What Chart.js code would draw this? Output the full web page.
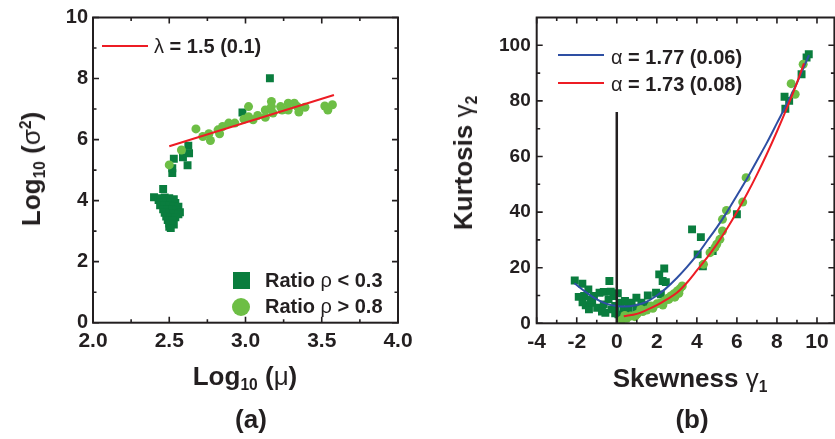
<!DOCTYPE html>
<html>
<head>
<meta charset="utf-8">
<script src="https://cdn.jsdelivr.net/npm/chart.js@4.4.1/dist/chart.umd.min.js"></script>
<style>
  html, body { margin:0; padding:0; background:#fff; overflow:hidden; width:835px; height:439px; }
  #wrap { position:relative; width:835px; height:439px; overflow:hidden; font-family:"Liberation Sans", Arial, sans-serif; color:#231f20; }
  canvas { position:absolute; top:0; }
  .t { position:absolute; font-weight:bold; white-space:nowrap; line-height:1; }
  .g { font-weight:normal; }
  .sub { font-size:60%; position:relative; top:0.35em; }
  .sup { font-size:60%; position:relative; top:-0.55em; }
  .sym { position:absolute; }
</style>
</head>
<body>
<div id="wrap">
  <canvas id="ca" width="420" height="439" style="left:0"></canvas>
  <canvas id="cb" width="420" height="439" style="left:420px"></canvas>

  <!-- panel (a) titles -->
  <div class="t" style="font-size:26px; left:31px; top:169px; transform:translate(-50%,-50%) rotate(-90deg);">Log<span class="sub">10</span> (<span class="g">σ</span><span class="sup">2</span>)</div>
  <div class="t" style="font-size:26px; left:245px; top:376px; transform:translate(-50%,-50%);">Log<span class="sub">10</span> (<span class="g">μ</span>)</div>
  <div class="t" style="font-size:26px; left:251px; top:419px; transform:translate(-50%,-50%);">(a)</div>

  <!-- panel (a) legends -->
  <div class="sym" style="left:102px; top:45px; width:46px; height:2px; background:#ed1c24;"></div>
  <div class="t" style="font-size:20px; left:154px; top:36px;"><span class="g">λ</span> = 1.5 (0.1)</div>
  <div class="sym" style="left:233px; top:272px; width:17px; height:17px; background:#0a7d3e;"></div>
  <div class="sym" style="left:232px; top:298px; width:18px; height:18px; border-radius:50%; background:#6dbe45;"></div>
  <div class="t" style="font-size:20px; left:265px; top:270px;">Ratio <span class="g">ρ</span> &lt; 0.3</div>
  <div class="t" style="font-size:20px; left:265px; top:296px;">Ratio <span class="g">ρ</span> &gt; 0.8</div>

  <!-- panel (b) titles -->
  <div class="t" style="font-size:26px; left:463px; top:163px; transform:translate(-50%,-50%) rotate(-90deg);">Kurtosis <span class="g">γ</span><span class="sub">2</span></div>
  <div class="t" style="font-size:26px; left:690px; top:378px; transform:translate(-50%,-50%);">Skewness <span class="g">γ</span><span class="sub">1</span></div>
  <div class="t" style="font-size:26px; left:692px; top:419px; transform:translate(-50%,-50%);">(b)</div>

  <!-- panel (b) legends -->
  <div class="sym" style="left:558px; top:54px; width:46px; height:2px; background:#2e4fa3;"></div>
  <div class="t" style="font-size:20px; left:611px; top:47px;"><span class="g">α</span> = 1.77 (0.06)</div>
  <div class="sym" style="left:558px; top:82px; width:46px; height:2px; background:#ed1c24;"></div>
  <div class="t" style="font-size:20px; left:611px; top:74px;"><span class="g">α</span> = 1.73 (0.08)</div>
</div>

<script>
// ---------- Panel (a) data: Log10(mu) vs Log10(sigma^2) ----------
const lowRatioA = [
  [2.40,4.11],[2.46,4.38],[2.43,4.02],[2.44,4.08],[2.47,4.10],[2.50,4.08],[2.53,4.05],
  [2.45,3.95],[2.48,3.97],[2.51,3.95],[2.54,3.92],[2.44,3.85],[2.47,3.85],[2.50,3.83],
  [2.53,3.82],[2.56,3.80],[2.46,3.72],[2.49,3.70],[2.52,3.70],[2.55,3.68],[2.57,3.62],
  [2.47,3.60],[2.50,3.58],[2.53,3.57],[2.56,3.55],[2.48,3.48],[2.51,3.46],[2.54,3.45],
  [2.49,3.36],[2.52,3.34],[2.50,3.25],[2.53,3.22],[2.50,3.14],[2.51,3.10],
  [2.52,4.90],[2.52,5.06],[2.53,5.37],[2.59,5.42],[2.63,5.55],[2.625,5.80],[2.62,5.16],
  [2.98,6.89],[3.16,8.01]
];
const highRatioA = [
  [2.50,5.17],[2.58,5.66],[2.675,6.35],[2.72,6.10],[2.76,6.19],[2.77,5.97],[2.82,6.32],
  [2.83,6.19],[2.85,6.43],[2.89,6.54],[2.93,6.54],[2.99,6.67],[3.02,7.08],[3.02,6.75],
  [3.05,6.65],[3.08,6.79],[3.13,6.97],[3.13,6.73],[3.17,7.25],[3.17,7.08],[3.18,6.87],
  [3.23,7.08],[3.24,6.97],[3.28,7.19],[3.28,6.97],[3.32,7.19],[3.34,7.08],[3.35,6.90],
  [3.39,7.06],[3.52,7.10],[3.54,6.97],[3.57,7.14]
];
const fitA = [[2.50,5.78],[3.58,7.46]];
const xTicksA = [2.0,2.5,3.0,3.5,4.0];
const xMinorA = [2.25,2.75,3.25,3.75];
const yTicksA = [0,2,4,6,8,10];
const yMinorA = [1,3,5,7,9];

// ---------- Panel (b) data: Skewness vs Kurtosis ----------
const lowRatioB = [
  [-2.10,15.4],[-1.72,14.2],[-1.42,12.2],[-1.63,9.8],[-1.55,6.5],[-1.39,5.0],[-1.23,7.4],
  [-1.71,7.6],[-1.14,9.8],[-0.86,11.0],[-0.65,11.3],[-0.37,15.2],[-0.98,5.6],[-0.65,6.8],
  [-0.41,8.6],[-0.16,9.8],[0.05,10.8],[-0.25,5.0],[-0.74,4.2],[-0.57,3.8],[-0.08,3.6],
  [0.08,3.2],[0.17,7.4],[0.33,5.0],[-0.08,6.2],[0.41,8.0],[0.57,6.2],[0.74,7.4],[0.98,9.2],
  [1.23,7.4],[1.55,10.0],[1.96,11.0],[2.20,10.4],[2.12,17.6],[2.37,19.7],[2.29,15.2],
  [2.45,14.8],[-1.90,9.5],[-1.30,8.6],[-0.30,11.4],[0.60,4.8],[1.00,5.6],[1.40,6.2],
  [3.76,33.8],[4.20,31.0],[4.04,24.8],[4.30,20.5],[4.79,26.0],[6.00,39.2],
  [8.42,77.2],[8.38,81.5],[8.61,80.0],[9.23,89.6],[9.48,95.6],[9.59,96.8]
];
const highRatioB = [
  [0.25,1.2],[0.50,1.8],[0.70,2.6],[1.00,3.2],[1.30,4.2],[1.50,4.8],[1.72,6.2],[2.00,7.0],
  [2.20,7.4],[2.37,8.0],[2.55,9.0],[2.70,9.8],[2.85,10.6],[3.02,11.6],[3.15,12.4],[3.27,13.4],
  [0.40,2.8],[0.90,2.4],[1.20,5.0],[1.80,5.4],[2.30,6.6],[2.60,8.6],[2.90,9.4],[3.10,10.8],
  [4.33,21.2],[4.66,25.4],[4.90,27.2],[4.99,28.4],[5.15,30.2],[5.28,33.2],[5.28,37.4],
  [5.48,40.6],[6.29,43.6],[6.46,52.4],[8.71,86.2],[8.91,82.4],[9.31,93.2]
];
const fitBlue = [
  [-2.12,14.4],[-1.5,11.0],[-1.0,8.6],[-0.5,7.0],[0.0,6.2],[0.35,6.0],[1.0,6.6],[1.5,7.8],
  [2.0,10.0],[2.4,12.2],[3.0,16.3],[3.5,20.2],[4.0,24.5],[4.5,29.5],[5.0,34.5],[5.5,40.0],
  [6.0,46.0],[6.5,52.0],[7.0,58.5],[7.5,65.0],[8.0,72.0],[8.5,79.0],[9.0,86.5],[9.6,96.5]
];
const fitRed = [
  [0.35,2.5],[1.0,3.4],[1.5,4.8],[2.0,6.5],[2.5,8.6],[3.0,11.0],[3.5,14.6],[4.0,19.0],
  [4.5,23.5],[5.0,28.5],[5.5,34.0],[6.0,40.0],[6.5,46.5],[7.0,53.5],[7.5,61.0],[8.0,69.0],
  [8.5,77.5],[9.0,86.5],[9.35,93.5]
];
const zeroLine = [[0,0],[0,76]];
const xTicksB = [-4,-2,0,2,4,6,8,10];
const xMinorB = [-3,-1,1,3,5,7,9];
const yTicksB = [0,20,40,60,80,100];
const yMinorB = [10,30,50,70,90];

// ---------- common ----------
const INK = '#231f20';
const DARK = '#0a7d3e';
const LIGHT = '#6dbe45';
const RED = '#ed1c24';
const BLUE = '#2e4fa3';
const FONT = '"Liberation Sans", Arial, sans-serif';
const pts = a => a.map(p => ({x:p[0], y:p[1]}));

const frameTicks = {
  id: 'frameTicks',
  afterDatasetsDraw(chart, args, o) {
    const {ctx, chartArea:a, scales:{x, y}} = chart;
    ctx.save();
    ctx.strokeStyle = INK;
    ctx.lineWidth = 2;
    ctx.strokeRect(a.left, a.top, a.right - a.left, a.bottom - a.top);
    ctx.lineWidth = 1.6;
    ctx.beginPath();
    const vx = (vals, len) => vals.forEach(v => {
      const px = x.getPixelForValue(v);
      ctx.moveTo(px, a.bottom); ctx.lineTo(px, a.bottom - len);
      ctx.moveTo(px, a.top); ctx.lineTo(px, a.top + len);
    });
    const vy = (vals, len) => vals.forEach(v => {
      const py = y.getPixelForValue(v);
      ctx.moveTo(a.left, py); ctx.lineTo(a.left + len, py);
      ctx.moveTo(a.right, py); ctx.lineTo(a.right - len, py);
    });
    vx(o.xMajor, 6); vx(o.xMinor, 3.5);
    vy(o.yMajor, 6); vy(o.yMinor, 3.5);
    ctx.stroke();
    ctx.restore();
  }
};

function axis(min, max, ticks, fontSize, pad, fmt, fit) {
  return {
    type: 'linear', min, max,
    afterBuildTicks: s => { s.ticks = ticks.map(v => ({value:v})); },
    afterFit: fit,
    grid: {display:false, drawTicks:false},
    border: {display:false},
    ticks: {
      color: INK, padding: pad, autoSkip:false, maxRotation:0,
      font: {family: FONT, size: fontSize, weight: 'bold'},
      callback: fmt
    }
  };
}

Chart.register(frameTicks);

new Chart(document.getElementById('ca'), {
  type: 'scatter',
  data: {
    datasets: [
      {data: pts(fitA), showLine:true, borderColor:RED, borderWidth:2, pointRadius:0, order:0},
      {data: pts(highRatioA), backgroundColor:LIGHT, borderWidth:0, pointRadius:4.5, pointStyle:'circle', order:1},
      {data: pts(lowRatioA), backgroundColor:DARK, borderWidth:0, pointRadius:5.6, pointStyle:'rect', order:2}
    ]
  },
  options: {
    responsive:false, animation:false, devicePixelRatio:1,
    layout: {padding: {top:17.5, right:22, left:0, bottom:0}},
    plugins: {legend:{display:false}, tooltip:{enabled:false},
      frameTicks: {xMajor:xTicksA, xMinor:xMinorA, yMajor:yTicksA, yMinor:yMinorA}},
    scales: {
      x: axis(2, 4, xTicksA, 21, 6, v => v.toFixed(1), s => { s.height = 116.3; }),
      y: axis(0, 10, yTicksA, 20, 5, v => String(v), s => { s.width = 93; })
    }
  }
});

new Chart(document.getElementById('cb'), {
  type: 'scatter',
  data: {
    datasets: [
      {data: pts(zeroLine), showLine:true, borderColor:INK, borderWidth:2.5, pointRadius:0, order:0},
      {data: pts(fitRed), showLine:true, borderColor:RED, borderWidth:2, pointRadius:0, cubicInterpolationMode:'monotone', order:1},
      {data: pts(fitBlue), showLine:true, borderColor:BLUE, borderWidth:2, pointRadius:0, cubicInterpolationMode:'monotone', order:2},
      {data: pts(highRatioB), backgroundColor:LIGHT, borderWidth:0, pointRadius:4.5, pointStyle:'circle', order:3},
      {data: pts(lowRatioB), backgroundColor:DARK, borderWidth:0, pointRadius:5.6, pointStyle:'rect', order:4}
    ]
  },
  options: {
    responsive:false, animation:false, devicePixelRatio:1,
    layout: {padding: {top:17.5, right:0, left:0, bottom:0}},
    plugins: {legend:{display:false}, tooltip:{enabled:false},
      frameTicks: {xMajor:xTicksB, xMinor:xMinorB, yMajor:yTicksB, yMinor:yMinorB}},
    scales: {
      x: axis(-4, 10.87, xTicksB, 21, 6, v => String(v), s => { s.height = 115.7; }),
      y: axis(0, 110, yTicksB, 19, 6, v => String(v), s => { s.width = 116.7; })
    }
  }
});
</script>
</body>
</html>
